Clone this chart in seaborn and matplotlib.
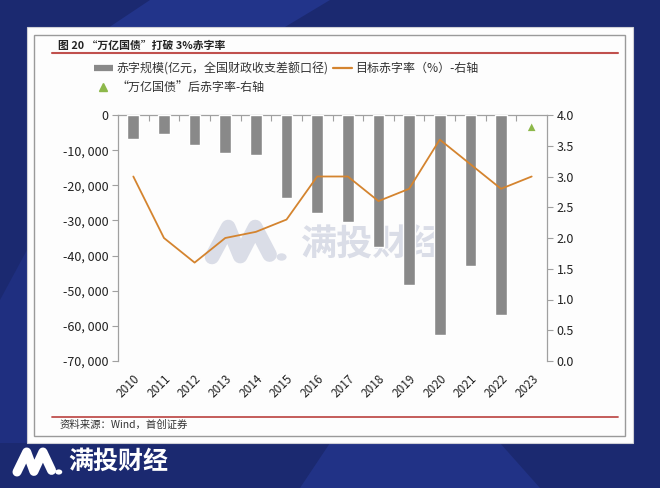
import numpy as np
import pandas as pd
import matplotlib
matplotlib.use("Agg")
import matplotlib.pyplot as plt
import seaborn as sns
from matplotlib.lines import Line2D
from matplotlib.patches import Rectangle, Polygon, Circle
from matplotlib.ticker import FuncFormatter, FixedLocator

# ---------------- data ----------------
years = ["2010", "2011", "2012", "2013", "2014", "2015", "2016",
         "2017", "2018", "2019", "2020", "2021", "2022", "2023"]
deficit = [-6700, -5300, -8600, -10900, -11300, -23500, -28000,
           -30500, -37500, -48400, -62600, -42900, -56900, np.nan]
target_rate = [3.0, 2.0, 1.6, 2.0, 2.1, 2.3, 3.0,
               3.0, 2.6, 2.8, 3.6, 3.2, 2.8, 3.0]
after_rate_year = "2023"
after_rate = 3.8

title_text = "图 20 “万亿国债”打破 3%赤字率"
bar_label = "赤字规模(亿元，全国财政收支差额口径)"
line_label = "目标赤字率（%）-右轴"
tri_label = "“万亿国债”后赤字率-右轴"
source_text = "资料来源：Wind，首创证券"
brand = "满投财经"

# ---------------- style ----------------
sns.set_theme(style="white")
plt.rcParams["font.family"] = ["Noto Sans CJK SC", "DejaVu Sans"]
plt.rcParams["axes.unicode_minus"] = False

W, H = 660, 488
fig = plt.figure(figsize=(6.6, 4.88), dpi=100)
fig.patch.set_facecolor("#1B2970")

def fx(x):
    return x / W

def fy(y):
    return 1 - y / H

# background light stripes
fig.patches.append(Polygon([(fx(150), fy(0)), (fx(330), fy(0)), (fx(230), fy(60)), (fx(60), fy(60))],
                           closed=True, transform=fig.transFigure, facecolor="#22348A", edgecolor="none", zorder=-10))
fig.patches.append(Polygon([(fx(330), fy(443)), (fx(500), fy(443)), (fx(540), fy(488)), (fx(300), fy(488))],
                           closed=True, transform=fig.transFigure, facecolor="#213286", edgecolor="none", zorder=-10))
fig.patches.append(Polygon([(fx(0), fy(300)), (fx(27), fy(250)), (fx(27), fy(443)), (fx(0), fy(443))],
                           closed=True, transform=fig.transFigure, facecolor="#1F2F80", edgecolor="none", zorder=-10))

# white card
fig.patches.append(Rectangle((fx(27), fy(443)), fx(633) - fx(27), fy(27) - fy(443),
                             transform=fig.transFigure, facecolor="#FDFDFD", edgecolor="#CFCFD6",
                             lw=0.8, zorder=-9))
fig.patches.append(Rectangle((fx(34), fy(436)), fx(625) - fx(34), fy(35) - fy(436),
                             transform=fig.transFigure, facecolor="none", edgecolor="#9A9A9A",
                             lw=1.0, zorder=-8))

# red rules
fig.add_artist(Line2D([fx(52), fx(618)], [fy(52.5), fy(52.5)], transform=fig.transFigure,
                      color="#C0504D", lw=1.5, zorder=-7))
fig.add_artist(Line2D([fx(52), fx(618)], [fy(417), fy(417)], transform=fig.transFigure,
                      color="#C0504D", lw=1.3, zorder=-7))

fig.text(fx(58), fy(46), title_text, fontsize=7.8, fontweight="bold", color="#222222",
         ha="left", va="center", zorder=-6)
fig.text(fx(60), fy(425), source_text, fontsize=7.5, style="italic", color="#333333",
         ha="left", va="center", zorder=-6)


def draw_logo(x0, yb, w, h, lw, color, dot_r, zorder):
    pts = [(0.0, 0.0), (0.27, 1.0), (0.47, 0.03), (0.72, 1.0), (0.96, 0.08)]
    xs = [fx(x0 + u * w) for u, v in pts]
    ys = [fy(yb - v * h) for u, v in pts]
    fig.add_artist(Line2D(xs, ys, transform=fig.transFigure, color=color, lw=lw,
                          solid_capstyle="round", solid_joinstyle="round", zorder=zorder))
    cx, cy = x0 + 1.16 * w, yb
    fig.patches.append(Circle((fx(cx), fy(cy)), dot_r / W, transform=fig.transFigure,
                              facecolor=color, edgecolor="none", zorder=zorder))

# watermark (behind the chart marks)
draw_logo(212, 257, 60, 30, 10.5, "#DADDE7", 5, -5)
fig.text(fx(300), fy(245), brand, fontsize=26, fontweight="bold", color="#DADDE7",
         ha="left", va="center", zorder=-5)

# bottom-left brand
draw_logo(17, 472, 36, 20, 6.5, "white", 3.5, 5)
fig.text(fx(68), fy(462), brand, fontsize=18, fontweight="bold", color="white",
         ha="left", va="center", zorder=5)

# ---------------- chart ----------------
ax = fig.add_axes([fx(118), fy(361), fx(547) - fx(118), fy(115) - fy(361)])
ax.patch.set_visible(False)

df = pd.DataFrame({"year": years, "deficit": deficit})
sns.barplot(data=df, x="year", y="deficit", order=years, color="#898989",
            width=0.38, saturation=1, ax=ax, zorder=2)
ax.set_xlim(-0.5, len(years) - 0.5)
ax.set_ylim(-70000, 0)
ax.set_xlabel("")
ax.set_ylabel("")
ax.set_yticks(np.arange(-70000, 1, 10000))
ax.yaxis.set_major_formatter(FuncFormatter(lambda v, p: "0" if v == 0 else f"-{abs(int(v)):,}".replace(",", ", ")))

ax.set_xticks(range(len(years)))
ax.set_xticklabels(years, rotation=45, ha="right", va="top", rotation_mode="anchor")
ax.tick_params(axis="x", which="major", length=0, pad=8, labelsize=8.5, labelcolor="#222222")
ax.xaxis.set_minor_locator(FixedLocator(np.arange(0.5, len(years) - 0.5, 1.0)))
ax.tick_params(axis="x", which="minor", top=True, bottom=False, direction="in",
               length=4, color="#A0A0A0", width=0.8)
ax.tick_params(axis="y", left=True, direction="out", length=4, color="#A0A0A0",
               width=0.8, labelsize=9, labelcolor="#222222", pad=3)

for s in ["bottom", "right"]:
    ax.spines[s].set_visible(False)
for s in ["left", "top"]:
    ax.spines[s].set_color("#A0A0A0")
    ax.spines[s].set_linewidth(0.9)
    ax.spines[s].set_zorder(1)

ax2 = ax.twinx()
ax2.patch.set_visible(False)
xpos = np.arange(len(years))
line_df = pd.DataFrame({"x": xpos, "rate": target_rate})
sns.lineplot(data=line_df, x="x", y="rate", color="#D4842F", lw=1.3, ax=ax2, zorder=3)
tri_df = pd.DataFrame({"x": [years.index(after_rate_year)], "rate": [after_rate]})
sns.scatterplot(data=tri_df, x="x", y="rate", marker="^", color="#8DB84A", s=30,
                edgecolor="none", ax=ax2, zorder=4)
ax2.set_ylim(0, 4)
ax2.set_xlim(-0.5, len(years) - 0.5)
ax2.set_yticks(np.arange(0, 4.01, 0.5))
ax2.yaxis.set_major_formatter(FuncFormatter(lambda v, p: f"{v:.1f}"))
ax2.set_xlabel("")
ax2.set_ylabel("")
ax2.tick_params(axis="y", right=True, direction="out", length=4, color="#A0A0A0",
                width=0.8, labelsize=9, labelcolor="#222222", pad=3)
for s in ["bottom", "top", "left"]:
    ax2.spines[s].set_visible(False)
ax2.spines["right"].set_color("#A0A0A0")
ax2.spines["right"].set_linewidth(0.9)

# legend
handles = [
    Line2D([], [], color="#898989", lw=4.5, solid_capstyle="butt"),
    Line2D([], [], marker="^", color="#8DB84A", ls="none", markersize=5.5),
    Line2D([], [], color="#D4842F", lw=1.6),
]
labels = [bar_label, tri_label, line_label]
fig.legend(handles, labels, loc="upper left", bbox_to_anchor=(fx(94), fy(62)),
           ncol=2, frameon=False, fontsize=8.65, handlelength=1.55, handletextpad=0.3,
           columnspacing=0.4, labelspacing=0.5, borderpad=0, borderaxespad=0,
           labelcolor="#333333")

fig.savefig("out.png", dpi=100, facecolor=fig.get_facecolor())
